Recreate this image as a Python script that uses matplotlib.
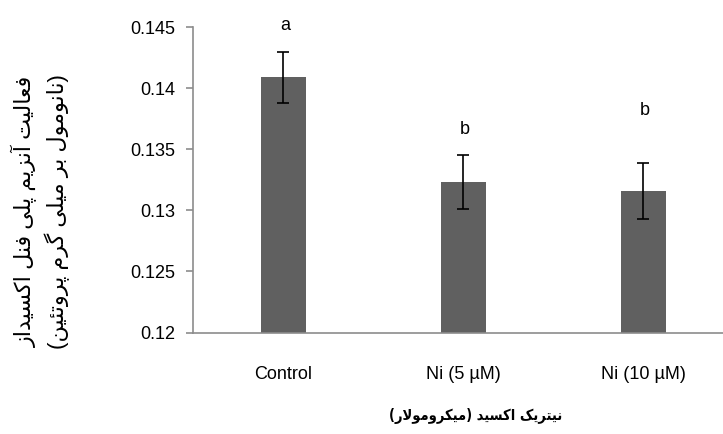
import matplotlib
matplotlib.use("Agg")
import matplotlib.pyplot as plt

plt.rcParams['font.family'] = ['Liberation Sans', 'DejaVu Sans']

categories = ["Control", "Ni (5 \u00b5M)", "Ni (10 \u00b5M)"]
means = [0.1409, 0.1323, 0.1316]
errors = [0.0021, 0.0022, 0.0023]
letters = ["a", "b", "b"]

ylabel_line1 = "فعالیت آنزیم پلی فنل اکسیداز"
ylabel_line2 = "(نانومول بر میلی گرم پروتئین)"
xlabel_text = "نیتریک اکسید (میکرومولار)"

# matplotlib has no arabic shaping, so pick presentation forms by hand
forms = {
    'ا': ('\uFE8D', '\uFE8E', None, None),
    'آ': ('\uFE81', '\uFE82', None, None),
    'ب': ('\uFE8F', '\uFE90', '\uFE91', '\uFE92'),
    'پ': ('\uFB56', '\uFB57', '\uFB58', '\uFB59'),
    'ت': ('\uFE95', '\uFE96', '\uFE97', '\uFE98'),
    'ئ': ('\uFE89', '\uFE8A', '\uFE8B', '\uFE8C'),
    'د': ('\uFEA9', '\uFEAA', None, None),
    'ر': ('\uFEAD', '\uFEAE', None, None),
    'ز': ('\uFEAF', '\uFEB0', None, None),
    'س': ('\uFEB1', '\uFEB2', '\uFEB3', '\uFEB4'),
    'ع': ('\uFEC9', '\uFECA', '\uFECB', '\uFECC'),
    'ف': ('\uFED1', '\uFED2', '\uFED3', '\uFED4'),
    '\u06A9': ('\uFB8E', '\uFB8F', '\uFB90', '\uFB91'),
    'گ': ('\uFB92', '\uFB93', '\uFB94', '\uFB95'),
    'ل': ('\uFEDD', '\uFEDE', '\uFEDF', '\uFEE0'),
    'م': ('\uFEE1', '\uFEE2', '\uFEE3', '\uFEE4'),
    'ن': ('\uFEE5', '\uFEE6', '\uFEE7', '\uFEE8'),
    'و': ('\uFEED', '\uFEEE', None, None),
    '\u06CC': ('\uFBFC', '\uFBFD', '\uFBFE', '\uFBFF'),
}
lam_alef = {'ا': ('\uFEFB', '\uFEFC'), 'آ': ('\uFEF5', '\uFEF6')}


def joins_next(c):
    return c in forms and forms[c][2] is not None


def rtl(s):
    s = s.replace('\u064A', '\u06CC').replace('\u0649', '\u06CC').replace('\u0643', '\u06A9')
    out = []
    i = 0
    while i < len(s):
        c = s[i]
        if c not in forms:
            out.append(c)
            i += 1
            continue
        pj = i > 0 and joins_next(s[i - 1])
        if c == 'ل' and i + 1 < len(s) and s[i + 1] in lam_alef:
            out.append(lam_alef[s[i + 1]][1 if pj else 0])
            i += 2
            continue
        nj = i + 1 < len(s) and s[i + 1] in forms and joins_next(c)
        iso, fin, ini, med = forms[c]
        if pj and nj:
            out.append(med)
        elif pj:
            out.append(fin)
        elif nj:
            out.append(ini)
        else:
            out.append(iso)
        i += 1
    vis = ''.join(out[::-1])
    return vis.replace('(', '\0').replace(')', '(').replace('\0', ')')


fig = plt.figure(figsize=(7.23, 4.34), dpi=100)
ax = fig.add_axes([193 / 723, 101.5 / 434, 530 / 723, 305.2 / 434])

x = list(range(len(categories)))
ax.bar(x, means, width=0.25, color="#606060", zorder=2)
ax.errorbar(x, means, yerr=errors, fmt="none", ecolor="black",
            elinewidth=1.2, capsize=4, capthick=1.2, zorder=3)

letter_offsets = [19, 19, 38]
for xi, m, e, lab, off in zip(x, means, errors, letters, letter_offsets):
    ax.annotate(lab, (xi, m + e), xytext=(1.5, off), textcoords="offset points",
                ha="center", va="center", fontsize=13)

ax.set_ylim(0.12, 0.145)
ax.set_yticks([0.12, 0.125, 0.13, 0.135, 0.14, 0.145])
ax.set_yticklabels(["0.12", "0.125", "0.13", "0.135", "0.14", "0.145"])
ax.set_xlim(-0.5, -0.5 + 530 / 180)
ax.set_xticks(x)
ax.set_xticklabels(categories)

for s in ["top", "right"]:
    ax.spines[s].set_visible(False)
for s in ["left", "bottom"]:
    ax.spines[s].set_color("#8c8c8c")
    ax.spines[s].set_linewidth(1.2)
ax.tick_params(axis="y", length=5, width=1.2, color="#8c8c8c", pad=8, labelsize=13)
ax.tick_params(axis="x", length=0, pad=24, labelsize=13)

fig.text(25 / 723, 1 - 211 / 434, rtl(ylabel_line1), rotation=90,
         ha="center", va="center", fontsize=16)
fig.text(57 / 723, 1 - 212 / 434, rtl(ylabel_line2), rotation=90,
         ha="center", va="center", fontsize=16)
fig.text(476 / 723, 1 - 416 / 434, rtl(xlabel_text),
         ha="center", va="center", fontsize=10.5, fontweight="bold",
         family="DejaVu Sans", stretch="condensed")

fig.savefig("out.png", dpi=100)
